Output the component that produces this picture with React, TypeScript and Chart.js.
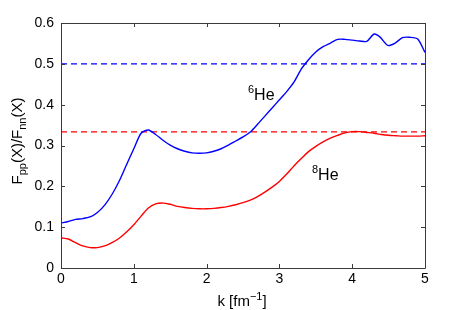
import React, { useEffect, useRef } from "react";
import { Chart, registerables } from "chart.js";

Chart.register(...registerables);

const kBlue = [0, 0.1, 0.2, 0.3, 0.4, 0.5, 0.6, 0.7, 0.8, 0.9, 1.0, 1.1, 1.2, 1.3, 1.4, 1.5, 1.6, 1.7, 1.8, 1.9, 2.0, 2.1, 2.2, 2.3, 2.4, 2.5, 2.6, 2.7, 2.8, 2.9, 3.0, 3.1, 3.2, 3.3, 3.4, 3.5, 3.6, 3.7, 3.8, 3.9, 4.0, 4.1, 4.2, 4.3, 4.38, 4.49, 4.59, 4.69, 4.79, 4.9, 5.0];
const he6 = [0.110, 0.114, 0.119, 0.121, 0.125, 0.136, 0.154, 0.180, 0.213, 0.253, 0.292, 0.330, 0.338, 0.327, 0.313, 0.301, 0.292, 0.286, 0.282, 0.281, 0.282, 0.286, 0.292, 0.301, 0.311, 0.321, 0.333, 0.352, 0.372, 0.392, 0.412, 0.432, 0.455, 0.487, 0.510, 0.529, 0.542, 0.551, 0.560, 0.560, 0.558, 0.556, 0.555, 0.573, 0.566, 0.545, 0.551, 0.564, 0.565, 0.561, 0.528];

const kRed = [0, 0.1, 0.2, 0.3, 0.4, 0.5, 0.6, 0.7, 0.8, 0.9, 1.0, 1.1, 1.2, 1.3, 1.4, 1.5, 1.6, 1.7, 1.8, 1.9, 2.0, 2.1, 2.2, 2.3, 2.4, 2.5, 2.6, 2.7, 2.8, 2.9, 3.0, 3.1, 3.2, 3.3, 3.4, 3.5, 3.6, 3.7, 3.8, 3.9, 4.0, 4.1, 4.2, 4.3, 4.4, 4.5, 4.6, 4.7, 4.8, 4.9, 5.0];
const he8 = [0.074, 0.071, 0.062, 0.054, 0.050, 0.050, 0.054, 0.062, 0.073, 0.088, 0.106, 0.127, 0.147, 0.157, 0.159, 0.156, 0.151, 0.148, 0.146, 0.145, 0.145, 0.146, 0.148, 0.151, 0.155, 0.160, 0.166, 0.175, 0.186, 0.198, 0.212, 0.230, 0.250, 0.268, 0.285, 0.298, 0.309, 0.318, 0.325, 0.331, 0.334, 0.334, 0.332, 0.330, 0.327, 0.325, 0.324, 0.323, 0.323, 0.323, 0.324];

const refK = [0, 5];
const ref6 = 0.5;
const ref8 = 1 / 3;

const xTicks = [0, 1, 2, 3, 4, 5];
const yTicks = [0, 0.1, 0.2, 0.3, 0.4, 0.5, 0.6];

const FONT = "'Liberation Sans', Arial, Helvetica, sans-serif";

type Seg = { t: string; size: number; dy: number };

function drawRich(ctx: CanvasRenderingContext2D, segs: Seg[], x: number, y: number, align: "left" | "center") {
  let total = 0;
  const widths = segs.map((s) => {
    ctx.font = `${s.size}px ${FONT}`;
    const w = ctx.measureText(s.t).width;
    total += w;
    return w;
  });
  let cx = align === "center" ? x - total / 2 : x;
  ctx.textBaseline = "alphabetic";
  ctx.textAlign = "left";
  segs.forEach((s, i) => {
    ctx.font = `${s.size}px ${FONT}`;
    ctx.fillText(s.t, cx, y + s.dy);
    cx += widths[i];
  });
}

const decorPlugin = {
  id: "decor",
  afterDatasetsDraw(chart: any) {
    const ctx = chart.ctx as CanvasRenderingContext2D;
    const { left, right, top, bottom } = chart.chartArea;
    const xs = chart.scales.x;
    const ys = chart.scales.y;
    ctx.save();
    ctx.strokeStyle = "#3a3a3a";
    ctx.lineWidth = 1;
    ctx.beginPath();
    ctx.rect(Math.round(left) + 0.5, Math.round(top) + 0.5, Math.round(right - left), Math.round(bottom - top));
    ctx.stroke();
    const tl = 4;
    ctx.beginPath();
    xTicks.forEach((v) => {
      const px = Math.round(xs.getPixelForValue(v)) + 0.5;
      ctx.moveTo(px, bottom);
      ctx.lineTo(px, bottom - tl);
      ctx.moveTo(px, top);
      ctx.lineTo(px, top + tl);
    });
    yTicks.forEach((v) => {
      const py = Math.round(ys.getPixelForValue(v)) + 0.5;
      ctx.moveTo(left, py);
      ctx.lineTo(left + tl, py);
      ctx.moveTo(right, py);
      ctx.lineTo(right - tl, py);
    });
    ctx.stroke();

    ctx.fillStyle = "#000";
    drawRich(ctx, [
      { t: "6", size: 11, dy: -7 },
      { t: "He", size: 16, dy: 0 },
    ], 248, 100, "left");
    drawRich(ctx, [
      { t: "8", size: 11, dy: -7 },
      { t: "He", size: 16, dy: 0 },
    ], 312, 180, "left");

    drawRich(ctx, [
      { t: "k [fm", size: 15, dy: 0 },
      { t: "\u22121", size: 11, dy: -6 },
      { t: "]", size: 15, dy: 0 },
    ], 242, 306, "center");

    ctx.translate(22, 141);
    ctx.rotate(-Math.PI / 2);
    drawRich(ctx, [
      { t: "F", size: 15, dy: 0 },
      { t: "pp", size: 11, dy: 4 },
      { t: "(X)/F", size: 15, dy: 0 },
      { t: "nn", size: 11, dy: 4 },
      { t: "(X)", size: 15, dy: 0 },
    ], 0, 0, "center");
    ctx.restore();
  },
};

const bgPlugin = {
  id: "bg",
  beforeDraw(chart: any) {
    const ctx = chart.ctx;
    ctx.save();
    ctx.fillStyle = "#fff";
    ctx.fillRect(0, 0, chart.width, chart.height);
    ctx.restore();
  },
};

export default function App() {
  const ref = useRef<HTMLCanvasElement | null>(null);
  useEffect(() => {
    if (!ref.current) return;
    const chart = new Chart(ref.current, {
      type: "line",
      data: {
        datasets: [
          {
            label: "6He",
            data: kBlue.map((k, i) => ({ x: k, y: he6[i] })),
            borderColor: "#0000ff",
            borderWidth: 1.4,
            pointRadius: 0,
            tension: 0.25,
            fill: false,
          },
          {
            label: "8He",
            data: kRed.map((k, i) => ({ x: k, y: he8[i] })),
            borderColor: "#ff0000",
            borderWidth: 1.4,
            pointRadius: 0,
            tension: 0.3,
            fill: false,
          },
          {
            label: "6He ref",
            data: refK.map((k) => ({ x: k, y: ref6 })),
            borderColor: "#0000ff",
            borderWidth: 1.3,
            borderDash: [6, 4],
            pointRadius: 0,
            fill: false,
          },
          {
            label: "8He ref",
            data: refK.map((k) => ({ x: k, y: ref8 })),
            borderColor: "#ff0000",
            borderWidth: 1.3,
            borderDash: [6, 4],
            pointRadius: 0,
            fill: false,
          },
        ],
      },
      options: {
        animation: false,
        responsive: false,
        layout: { padding: { left: 0, top: 23, right: 44, bottom: 0 } },
        plugins: { legend: { display: false }, tooltip: { enabled: false } },
        scales: {
          x: {
            type: "linear",
            min: 0,
            max: 5,
            afterFit: (s: any) => { s.height = 42; },
            afterBuildTicks: (s: any) => { s.ticks = xTicks.map((v) => ({ value: v })); },
            grid: { display: false, drawTicks: false },
            border: { display: false },
            ticks: { color: "#000", padding: 3, font: { family: FONT, size: 14 } },
          },
          y: {
            type: "linear",
            min: 0,
            max: 0.6,
            afterFit: (s: any) => { s.width = 61; },
            afterBuildTicks: (s: any) => { s.ticks = yTicks.map((v) => ({ value: v })); },
            grid: { display: false, drawTicks: false },
            border: { display: false },
            ticks: {
              color: "#000",
              padding: 7,
              font: { family: FONT, size: 14 },
              callback: (v: any) => String(Number(Number(v).toFixed(1))),
            },
          },
        },
      },
      plugins: [bgPlugin, decorPlugin],
    });
    return () => chart.destroy();
  }, []);
  return (
    <div style={{ position: "fixed", left: 0, top: 0, width: 469, height: 310 }}>
      <canvas ref={ref} width={469} height={310} />
    </div>
  );
}
